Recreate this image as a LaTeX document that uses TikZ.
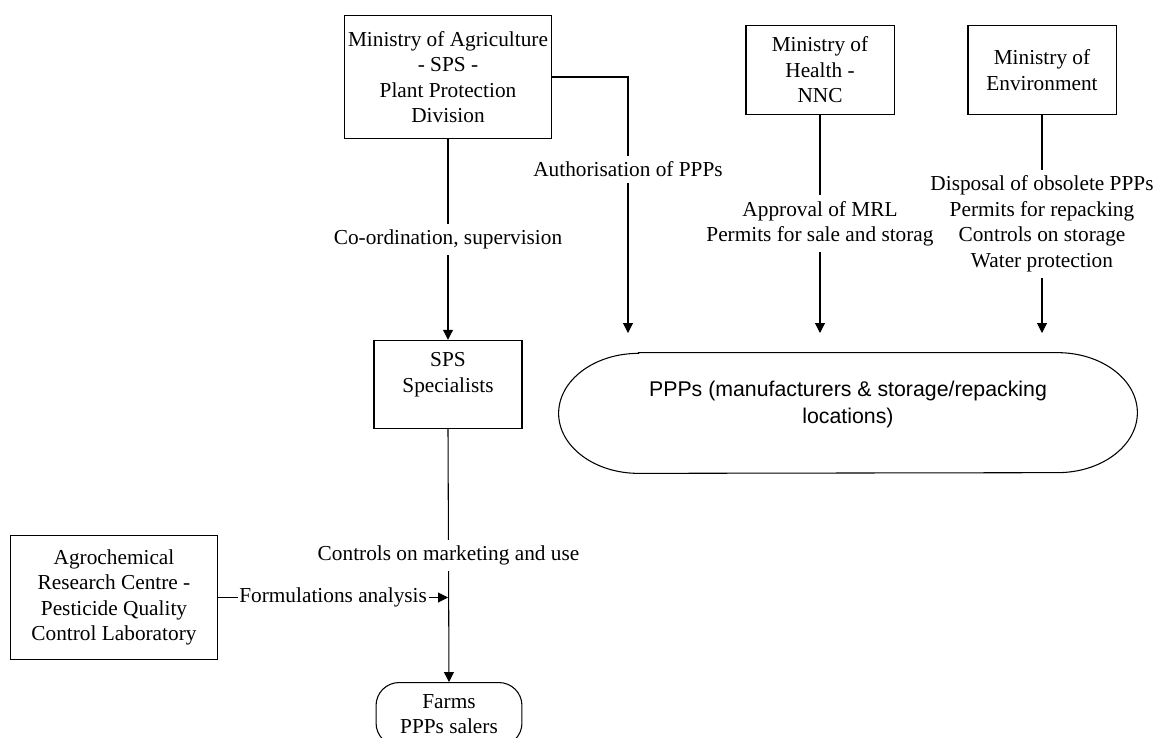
\documentclass[tikz,border=0pt]{standalone}
\usepackage{fontspec}
\setmainfont{Liberation Serif}
\newfontfamily\arialfont{Liberation Sans}
\usepackage{tikz}
\usetikzlibrary{arrows.meta}
\tikzstyle{orgbig} = [rectangle, draw=black, line width=0.6pt, minimum width=116.8pt, minimum height=69.6pt, inner sep=1pt, align=center, font=\fontsize{12}{14.4}\selectfont]
\tikzstyle{orgsmall} = [rectangle, draw=black, line width=0.6pt, minimum width=83.4pt, minimum height=49.8pt, inner sep=1pt, align=center, font=\fontsize{12}{14.4}\selectfont]
\tikzstyle{terminal} = [rectangle, rounded corners=13pt, draw=black, line width=0.6pt, minimum width=82.2pt, inner xsep=1pt, inner ysep=6.7pt, align=center, font=\fontsize{12}{14.4}\selectfont]
\tikzstyle{bigterminal} = [rectangle, minimum width=325.6pt, minimum height=67.6pt, text depth=12.1pt, align=center, font=\arialfont\fontsize{12}{15}\selectfont]
\tikzstyle{lbl} = [fill=white, inner xsep=1pt, inner ysep=3.4pt, align=center, font=\fontsize{12}{14.4}\selectfont]
\tikzstyle{conn} = [line width=0.6pt, -{Triangle[length=5.6pt,width=5.6pt]}]

\begin{document}
\begin{tikzpicture}[x=0.5633pt, y=-0.5633pt]

\useasboundingbox (0,0) rectangle (1157,738);

\node (moa) [orgbig] at (448,77) {Ministry of Agriculture\\- SPS -\\Plant Protection\\Division};
\node (moh) [orgsmall] at (820,70) {Ministry of\\Health -\\NNC};
\node (moe) [orgsmall] at (1042,70) {Ministry of\\Environment};
\node (sps) [orgsmall, text depth=13.8pt] at (448,384.5) {SPS\\Specialists};
\node (agro) [orgbig] at (114,597.5) {Agrochemical\\Research Centre -\\Pesticide Quality\\Control Laboratory};
\node (farms) [terminal, anchor=north] at (449,682) {Farms\\PPPs salers};


\node (ppp) [bigterminal] at (848,413) {PPPs (manufacturers \& storage/repacking\\locations)};
\draw[line width=0.6pt] ([xshift=45pt]ppp.north west) -- ([xshift=-45pt]ppp.north east)
    arc[start angle=90, end angle=-90, x radius=45pt, y radius=33.8pt]
    -- ([xshift=45pt]ppp.south west)
    arc[start angle=270, end angle=90, x radius=45pt, y radius=33.8pt] -- cycle;

\coordinate (in1) at (628,333);
\coordinate (in2) at (moh |- in1);
\coordinate (in3) at (moe |- in1);
\coordinate (fa) at (sps.south |- agro.east);


\draw[conn] (moa.south) -- node[lbl] {Co-ordination, supervision} (sps.north);
\draw[conn] (moa.east) -| node[lbl, pos=0.68] {Authorisation of PPPs} (in1);
\draw[conn] (moe.south) -- node[lbl] {Disposal of obsolete PPPs\\Permits for repacking\\Controls on storage\\Water protection} (in3);
\draw[conn] (moh.south) -- node[lbl] {Approval of MRL\\Permits for sale and storag} (in2);
\draw[conn] (sps.south) -- node[lbl] {Controls on marketing and use} (farms.north);
\draw[conn] (agro.east) -- node[lbl] {Formulations analysis} (fa);

\end{tikzpicture}
\end{document}
